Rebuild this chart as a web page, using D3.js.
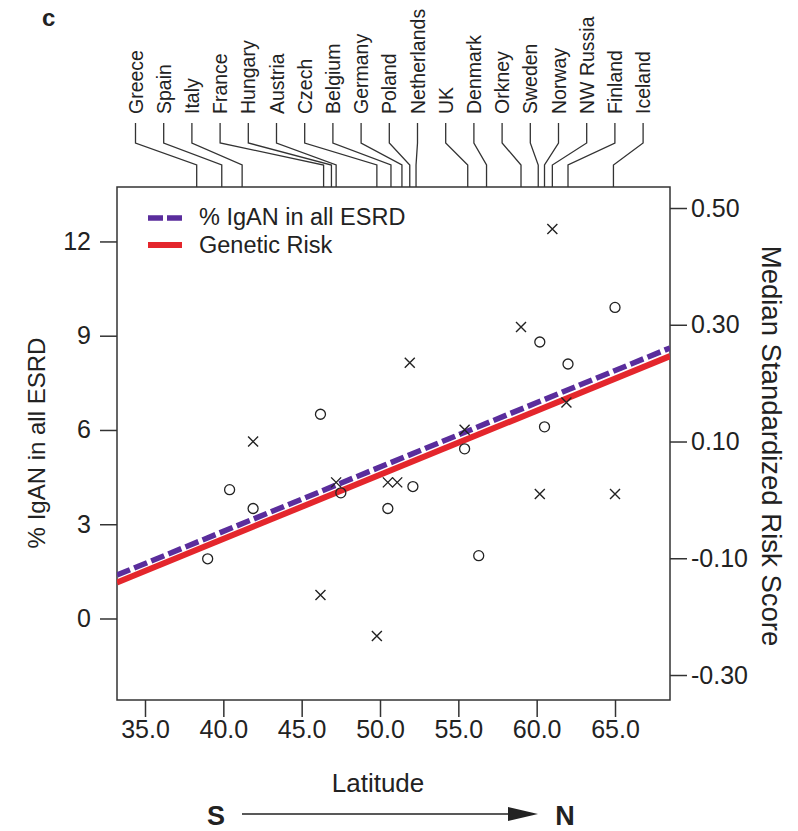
<!DOCTYPE html>
<html>
<head>
<meta charset="utf-8">
<script src="https://cdn.jsdelivr.net/npm/d3@7"></script>
<style>
  body { margin: 0; background: #fff; }
  text { font-family: "Liberation Sans", Arial, sans-serif; fill: #222; }
</style>
</head>
<body>
<div id="chart"></div>
<script>
// DATA
const countries = ["Greece", "Spain", "Italy", "France", "Hungary", "Austria", "Czech", "Belgium",
  "Germany", "Poland", "Netherlands", "UK", "Denmark", "Orkney", "Sweden", "Norway",
  "NW Russia", "Finland", "Iceland"];
const countryLat = [38.3, 39.9, 41.2, 46.4, 46.9, 47.2, 49.8, 50.7, 51.4, 51.9, 52.3,
  55.6, 56.8, 59.0, 60.1, 60.5, 61.0, 62.0, 64.9];

// circles: % IgAN in all ESRD (left axis)
const igLat = [39.0, 40.4, 41.9, 46.2, 47.5, 50.5, 52.1, 55.4, 56.3, 60.2, 60.5, 62.0, 65.0];
const igValue = [1.9, 4.1, 3.5, 6.5, 4.0, 3.5, 4.2, 5.4, 2.0, 8.8, 6.1, 8.1, 9.9];

// crosses: median standardized risk score (right axis)
const riskLat = [41.9, 46.2, 47.2, 49.8, 50.5, 51.1, 51.9, 55.4, 59.0, 60.2, 61.0, 61.9, 65.0];
const riskValue = [0.10, -0.163, 0.03, -0.233, 0.03, 0.03, 0.235, 0.12, 0.296, 0.01, 0.464, 0.167, 0.01];

// fitted lines [intercept, slope]
const igFit = [-5.42, 0.2048];
const riskFit = [-0.506, 0.01098];

const latTicks = [35, 40, 45, 50, 55, 60, 65];
const igTicks = [0, 3, 6, 9, 12];
const riskTicks = [-0.3, -0.1, 0.1, 0.3, 0.5];

// LAYOUT
const width = 798, height = 831;
const margin = {top: 187, right: 128, bottom: 131, left: 117};
const x0 = margin.left, x1 = width - margin.right;
const y0 = height - margin.bottom, y1 = margin.top;

const purple = "#5a2d9c", red = "#e4262c";

// SCALES
const xScale = d3.scaleLinear().domain([33.213, 68.51]).range([x0, x1]);
const yLeft = d3.scaleLinear().domain([-2.594, 13.733]).range([y0, y1]);
const yRight = d3.scaleLinear().domain([-0.3428, 0.536]).range([y0, y1]);

const svg = d3.select("#chart").append("svg")
  .attr("width", width)
  .attr("height", height);

// AXES
const xAxis = d3.axisBottom(xScale).tickValues(latTicks)
  .tickFormat(d => d.toFixed(1)).tickSize(17).tickPadding(3);
const yAxisL = d3.axisLeft(yLeft).tickValues(igTicks)
  .tickFormat(d => d).tickSize(17).tickPadding(9);
const yAxisR = d3.axisRight(yRight).tickValues(riskTicks)
  .tickFormat(d => d.toFixed(2)).tickSize(17).tickPadding(4);

function styleAxis(g) {
  g.select(".domain").remove();
  g.selectAll(".tick line").attr("stroke", "#333").attr("stroke-width", 1.5);
  g.selectAll(".tick text").style("font-size", "25px").attr("fill", "#222");
}

svg.append("g").attr("transform", `translate(0,${y0})`).call(xAxis).call(styleAxis);
svg.append("g").attr("transform", `translate(${x0},0)`).call(yAxisL).call(styleAxis);
svg.append("g").attr("transform", `translate(${x1},0)`).call(yAxisR).call(styleAxis);

// FRAME
svg.append("rect")
  .attr("x", x0).attr("y", y1)
  .attr("width", x1 - x0).attr("height", y0 - y1)
  .attr("fill", "none").attr("stroke", "#333").attr("stroke-width", 1.5);

// COUNTRY LABELS + LEADERS
const labelStep = 28.2, labelStart = 135.5;
const leader = svg.append("g").attr("fill", "none").attr("stroke", "#333").attr("stroke-width", 1.3);
countries.forEach((c, i) => {
  const lx = labelStart + i * labelStep;
  const px = xScale(countryLat[i]);
  leader.append("path")
    .attr("d", `M${lx},123 L${lx},143 L${px},165 L${px},${y1}`);
  svg.append("text")
    .attr("transform", `translate(${lx + 7},114) rotate(-90)`)
    .attr("text-anchor", "start")
    .style("font-size", "19.5px")
    .text(c);
});

// FIT LINES
const dom = xScale.domain();
const riskLine = d3.line().x(d => xScale(d)).y(d => yRight(riskFit[0] + riskFit[1] * d));
const igLine = d3.line().x(d => xScale(d)).y(d => yLeft(igFit[0] + igFit[1] * d));

svg.append("clipPath").attr("id", "clip").append("rect")
  .attr("x", x0).attr("y", y1).attr("width", x1 - x0).attr("height", y0 - y1);

svg.append("path").datum(dom)
  .attr("clip-path", "url(#clip)")
  .attr("d", riskLine)
  .attr("fill", "none").attr("stroke", red).attr("stroke-width", 6);

svg.append("path").datum(dom)
  .attr("clip-path", "url(#clip)")
  .attr("d", igLine)
  .attr("fill", "none").attr("stroke", purple).attr("stroke-width", 5.5)
  .attr("stroke-dasharray", "14,4.5");

// POINTS
svg.append("g").selectAll("circle")
  .data(igLat.map((d, i) => [d, igValue[i]]))
  .join("circle")
  .attr("cx", d => xScale(d[0]))
  .attr("cy", d => yLeft(d[1]))
  .attr("r", 5)
  .attr("fill", "none").attr("stroke", "#222").attr("stroke-width", 1.3);

const s = 5;
svg.append("g").selectAll("path")
  .data(riskLat.map((d, i) => [d, riskValue[i]]))
  .join("path")
  .attr("d", d => {
    const cx = xScale(d[0]), cy = yRight(d[1]);
    return `M${cx - s},${cy - s}L${cx + s},${cy + s}M${cx - s},${cy + s}L${cx + s},${cy - s}`;
  })
  .attr("fill", "none").attr("stroke", "#222").attr("stroke-width", 1.4);

// LEGEND
const legend = svg.append("g");
legend.append("line")
  .attr("x1", 148).attr("x2", 182).attr("y1", 218).attr("y2", 218)
  .attr("stroke", purple).attr("stroke-width", 5.5).attr("stroke-dasharray", "15,4");
legend.append("text").attr("x", 199).attr("y", 225).style("font-size", "23.5px").text("% IgAN in all ESRD");
legend.append("line")
  .attr("x1", 148).attr("x2", 182).attr("y1", 245).attr("y2", 245)
  .attr("stroke", red).attr("stroke-width", 6);
legend.append("text").attr("x", 199).attr("y", 253).style("font-size", "23.5px").text("Genetic Risk");

// AXIS TITLES
svg.append("text")
  .attr("transform", `translate(45,443) rotate(-90)`)
  .attr("text-anchor", "middle")
  .style("font-size", "24px")
  .text("% IgAN in all ESRD");

svg.append("text")
  .attr("transform", `translate(762,446) rotate(90)`)
  .attr("text-anchor", "middle")
  .style("font-size", "27.5px")
  .text("Median Standardized Risk Score");

svg.append("text")
  .attr("x", 378).attr("y", 792)
  .attr("text-anchor", "middle")
  .style("font-size", "26px")
  .text("Latitude");

// S -> N ARROW
svg.append("text").attr("x", 216).attr("y", 825).attr("text-anchor", "middle")
  .style("font-size", "27px").style("font-weight", "bold").text("S");
svg.append("text").attr("x", 565).attr("y", 825).attr("text-anchor", "middle")
  .style("font-size", "27px").style("font-weight", "bold").text("N");
svg.append("line").attr("x1", 242).attr("x2", 512).attr("y1", 814).attr("y2", 814)
  .attr("stroke", "#222").attr("stroke-width", 1.5);
svg.append("path").attr("d", "M508,807 L538,814 L508,821 Z").attr("fill", "#222");

// panel letter
svg.append("text").attr("x", 42).attr("y", 26).style("font-size", "24px")
  .style("font-weight", "bold").text("c");
</script>
</body>
</html>
